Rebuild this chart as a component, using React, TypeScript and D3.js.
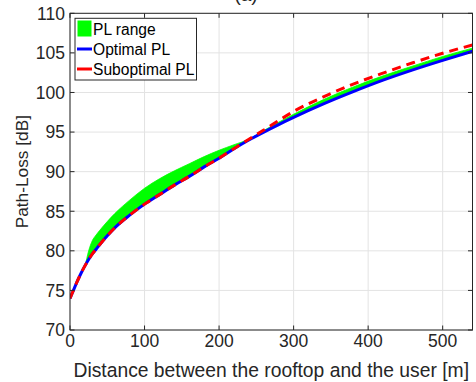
import React from "react";
import * as d3 from "d3";

const distance = [0, 5, 10, 15, 20, 25, 30, 35, 40, 50, 60, 80, 100, 120, 140, 160, 180, 200, 220, 240, 260, 280, 300, 340, 380, 420, 460, 500, 540];
const optimalPL = [74.0, 75.1, 76.2, 77.2, 78.1, 78.9, 79.6, 80.2, 80.8, 81.9, 82.9, 84.5, 85.9, 87.1, 88.3, 89.4, 90.6, 91.7, 92.9, 94.0, 95.0, 95.95, 96.85, 98.55, 100.1, 101.55, 102.85, 104.05, 105.2];
const suboptimalPL = [74.0, 75.1, 76.2, 77.2, 78.1, 78.9, 79.6, 80.2, 80.8, 81.9, 82.9, 84.5, 85.9, 87.1, 88.3, 89.4, 90.6, 91.7, 92.9, 94.1, 95.25, 96.45, 97.6, 99.45, 101.05, 102.45, 103.75, 104.95, 106.0];
const rangeUpperPL = [74.0, 75.1, 76.2, 77.2, 78.1, 80.0, 81.3, 82.0, 82.6, 83.7, 84.7, 86.4, 87.9, 89.1, 90.1, 91.0, 91.9, 92.7, 93.4, 94.1, 95.2, 96.25, 97.25, 99.1, 100.7, 102.1, 103.35, 104.55, 105.6];

const xTicks = [0, 100, 200, 300, 400, 500];
const yTicks = [70, 75, 80, 85, 90, 95, 100, 105, 110];
const legendLabels = ["PL range", "Optimal PL", "Suboptimal PL"];

const W = 476, H = 382;
const L = 70, R = 472.5, T = 13.3, B = 330;
const FONT = "'Liberation Sans', Arial, Helvetica, sans-serif";
const AX = "#262626";

export default function App() {
  const x = d3.scaleLinear().domain([0, 540]).range([L, R]);
  const y = d3.scaleLinear().domain([70, 110]).range([B, T]);

  const idx = distance.map((_, i) => i);
  const area = d3.area<number>()
    .x(i => x(distance[i]))
    .y0(i => y(optimalPL[i]))
    .y1(i => y(rangeUpperPL[i]))
    .curve(d3.curveMonotoneX);
  const lineOpt = d3.line<number>().x(i => x(distance[i])).y(i => y(optimalPL[i])).curve(d3.curveMonotoneX);
  const lineSub = d3.line<number>().x(i => x(distance[i])).y(i => y(suboptimalPL[i])).curve(d3.curveMonotoneX);

  const tickLen = 4.5;

  return (
    <svg width={W} height={H} style={{ position: "absolute", left: 0, top: 0, background: "#fff" }} fontFamily={FONT}>
      <rect x={0} y={0} width={W} height={H} fill="#fff" />
      <text x={246} y={0.5} textAnchor="middle" fontSize={19} fill={AX}>(a)</text>
      {xTicks.map(t => (
        <line key={"gx" + t} x1={x(t)} x2={x(t)} y1={T} y2={B} stroke="#e3e3e3" strokeWidth={1} />
      ))}
      {yTicks.map(t => (
        <line key={"gy" + t} x1={L} x2={R} y1={y(t)} y2={y(t)} stroke="#e3e3e3" strokeWidth={1} />
      ))}
      <defs>
        <clipPath id="plotclip"><rect x={L} y={T} width={R - L} height={B - T} /></clipPath>
      </defs>
      <g clipPath="url(#plotclip)">
        <path d={area(idx) || ""} fill="#00ff00" stroke="#00ff00" strokeWidth={0.8} />
        <path d={lineOpt(idx) || ""} fill="none" stroke="#0000ff" strokeWidth={3} />
        <path d={lineSub(idx) || ""} fill="none" stroke="#ff0000" strokeWidth={3} strokeDasharray="9,6" />
      </g>
      <rect x={L} y={T} width={R - L} height={B - T} fill="none" stroke={AX} strokeWidth={1} />
      {xTicks.map(t => (
        <g key={"tx" + t}>
          <line x1={x(t)} x2={x(t)} y1={B} y2={B - tickLen} stroke={AX} />
          <line x1={x(t)} x2={x(t)} y1={T} y2={T + tickLen} stroke={AX} />
          <text x={x(t)} y={346.5} textAnchor="middle" fontSize={17.5} fill={AX}>{t}</text>
        </g>
      ))}
      {yTicks.map(t => (
        <g key={"ty" + t}>
          <line x1={L} x2={L + tickLen} y1={y(t)} y2={y(t)} stroke={AX} />
          <line x1={R} x2={R - tickLen} y1={y(t)} y2={y(t)} stroke={AX} />
          <text x={65} y={y(t)} dy="0.36em" textAnchor="end" fontSize={17.5} fill={AX}>{t}</text>
        </g>
      ))}
      <text x={(L + R) / 2} y={376.5} textAnchor="middle" fontSize={19.3} fill={AX}>
        Distance between the rooftop and the user [m]
      </text>
      <text transform={`translate(27.5,${(T + B) / 2}) rotate(-90)`} textAnchor="middle" fontSize={17.3} fill={AX}>
        Path-Loss [dB]
      </text>
      <g>
        <rect x={75} y={18.3} width={121.5} height={61.7} fill="#fff" stroke={AX} strokeWidth={1} />
        <rect x={77.5} y={20.5} width={14} height={16} fill="#00ff00" />
        <line x1={77} x2={92} y1={49} y2={49} stroke="#0000ff" strokeWidth={3} />
        <line x1={77} x2={92} y1={69} y2={69} stroke="#ff0000" strokeWidth={3} />
        {legendLabels.map((s, i) => (
          <text key={s} x={93} y={34.5 + i * 20} fontSize={15.6} fill="#000">{s}</text>
        ))}
      </g>
    </svg>
  );
}
